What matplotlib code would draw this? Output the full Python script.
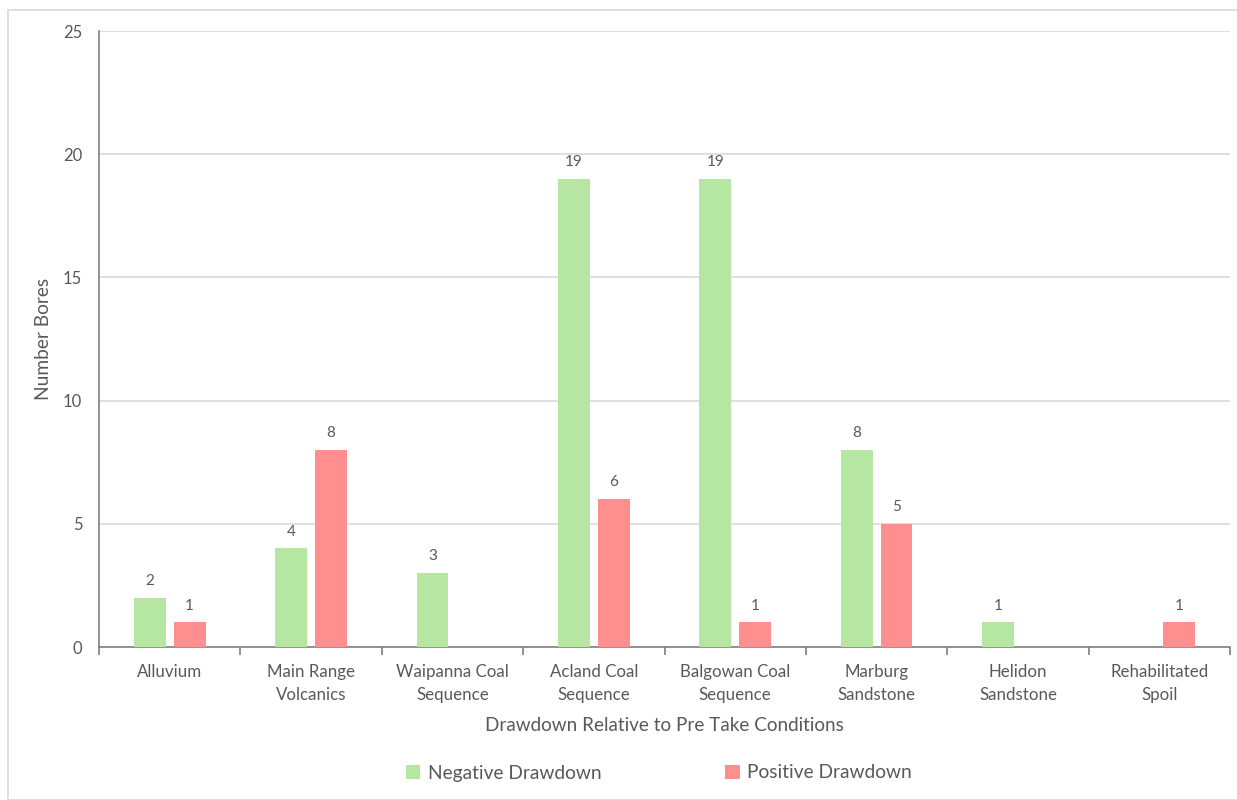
import matplotlib
matplotlib.use("Agg")
import matplotlib.pyplot as plt
import numpy as np
from matplotlib.patches import Rectangle

categories = ["Alluvium", "Main Range\nVolcanics", "Waipanna Coal\nSequence", "Acland Coal\nSequence",
              "Balgowan Coal\nSequence", "Marburg\nSandstone", "Helidon\nSandstone", "Rehabilitated\nSpoil"]
negative = [2, 4, 3, 19, 19, 8, 1, 0]
positive = [1, 8, 0, 6, 1, 5, 0, 1]
yticks = [0, 5, 10, 15, 20, 25]

plt.rcParams['font.family'] = ['Lato', 'DejaVu Sans']
txt = '#595959'
green = '#B5E6A2'
red = '#FF8F8F'

fig = plt.figure(figsize=(12.37, 8), dpi=100)
fig.patches.append(Rectangle((8/1237, 0), 1.0, 1 - 10/800, transform=fig.transFigure,
                             fill=False, edgecolor='#d9d9d9', linewidth=1.2))
ax = fig.add_axes([99/1237, 1 - 647/800, (1230 - 99)/1237, (647 - 31)/800])

x = np.arange(len(categories))
w = 0.226
off = 0.141
b1 = ax.bar(x - off, negative, w, color=green, label='Negative Drawdown', zorder=3)
b2 = ax.bar(x + off, positive, w, color=red, label='Positive Drawdown', zorder=3)
for bars, vals in ((b1, negative), (b2, positive)):
    for r, v in zip(bars, vals):
        if v:
            ax.annotate(str(v), (r.get_x() + r.get_width()/2, v), xytext=(0, 7),
                        textcoords='offset points', ha='center', va='bottom',
                        fontsize=11, color=txt)

ax.set_xlim(-0.5, len(categories) - 0.5)
ax.set_ylim(0, 25)
ax.set_yticks(yticks)
ax.yaxis.grid(True, color='#d9d9d9', linewidth=1.2, zorder=0)
ax.set_axisbelow(True)
ax.set_xticks(x)
ax.set_xticklabels(categories, fontsize=12.2, color=txt, linespacing=1.55)
ax.set_xticks(np.arange(-0.5, len(categories)), minor=True)
ax.tick_params(axis='x', which='major', length=0, pad=12)
ax.tick_params(axis='x', which='minor', length=6, color='#808080', width=1.2)
ax.tick_params(axis='y', length=0, labelsize=12, labelcolor=txt, pad=12)
for s in ('top', 'right'):
    ax.spines[s].set_visible(False)
for s in ('left', 'bottom'):
    ax.spines[s].set_color('#808080')
    ax.spines[s].set_linewidth(1.2)

ax.set_xlabel('Drawdown Relative to Pre Take Conditions', fontsize=13.6, color=txt, labelpad=10)
ax.set_ylabel('Number Bores', fontsize=13.8, color=txt, labelpad=0)
ax.yaxis.set_label_coords(-(99 - 52) / 1131, 0.5)

fig.legend(handles=[b1, b2], loc='center', bbox_to_anchor=(659/1237, 1 - 773/800), ncol=2,
           frameon=False, fontsize=13.8, labelcolor=txt, handlelength=0.75, handleheight=0.75,
           columnspacing=6.45, handletextpad=0.4)

fig.savefig('out.png', dpi=100)
